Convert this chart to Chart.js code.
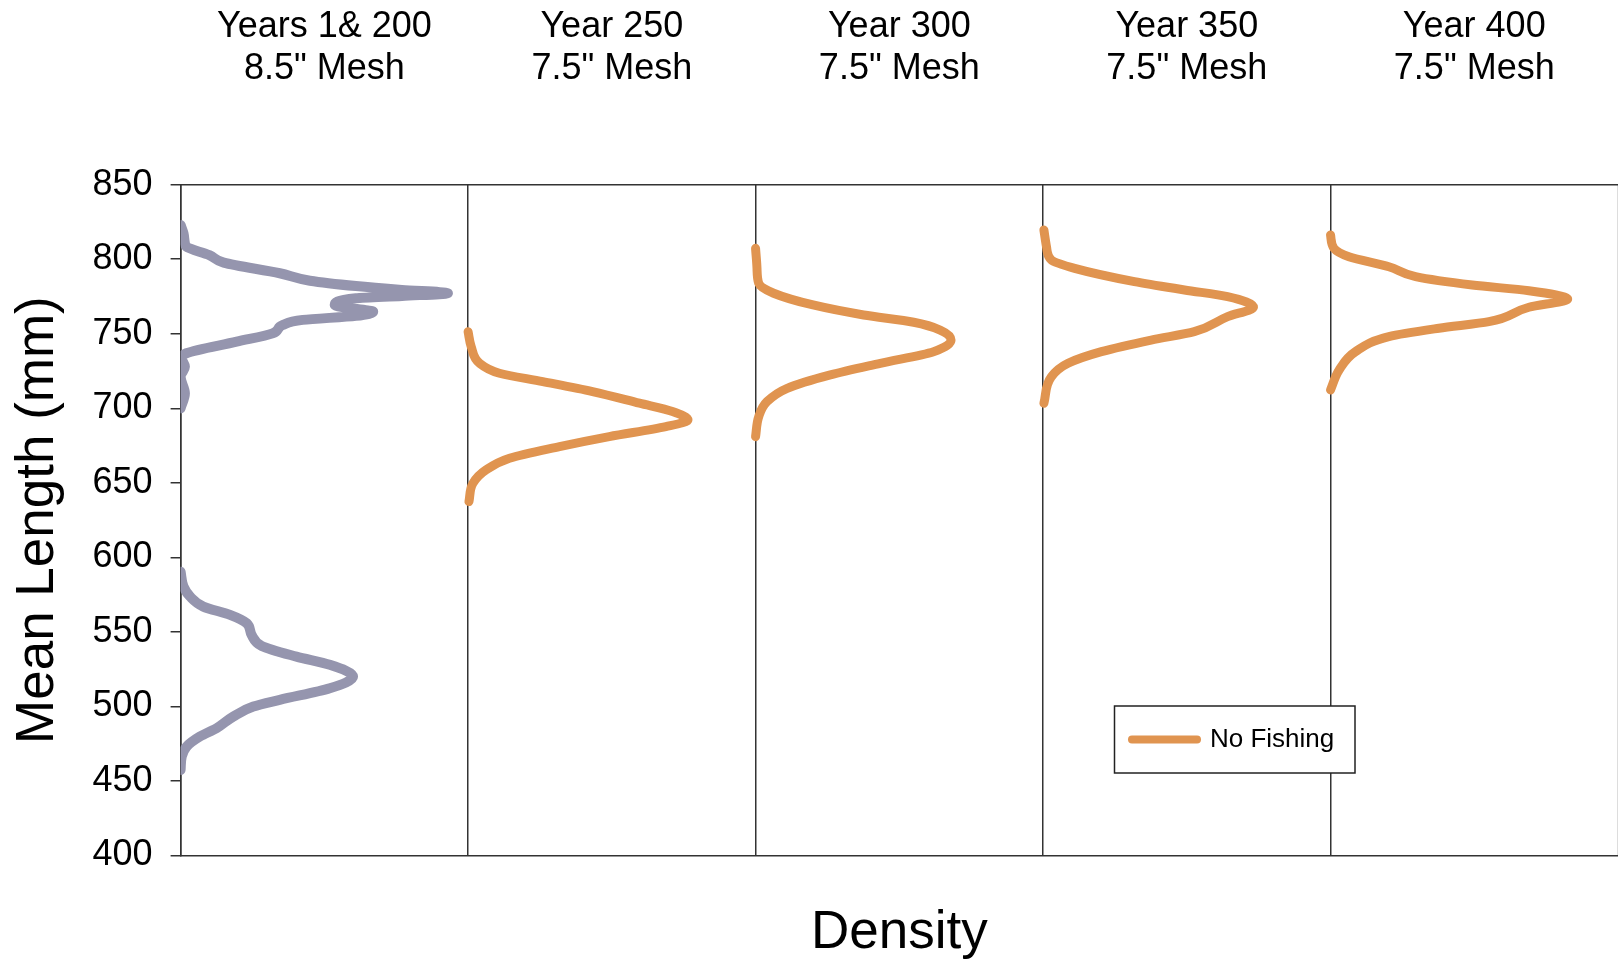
<!DOCTYPE html>
<html><head><meta charset="utf-8">
<script src="https://cdn.jsdelivr.net/npm/chart.js@4.4.1/dist/chart.umd.min.js"></script>
<style>html,body{margin:0;padding:0;background:#fff;overflow:hidden}#wrap{width:1618px;height:961px;position:relative}</style>
</head><body><div id="wrap"><canvas id="c" width="1618" height="961"></canvas></div>
<script>
// ---- Data (densities expressed as fraction of a panel's width) ----
const lengthTicks = [400, 450, 500, 550, 600, 650, 700, 750, 800, 850];
const panelTitles = [
  ["Years 1& 200", "8.5\" Mesh"],
  ["Year 250", "7.5\" Mesh"],
  ["Year 300", "7.5\" Mesh"],
  ["Year 350", "7.5\" Mesh"],
  ["Year 400", "7.5\" Mesh"]
];
const seriesLabels = ["Years 1 & 200", "No Fishing"];

// Panel 1 (Years 1 & 200), upper mode
const p1UpperLength  = [823, 817.4, 810.7, 808.4, 802.8, 797.7, 790.6, 785.6, 782, 779.4, 777.2, 775.4, 773.8, 769.3, 767.1, 764.8, 762, 759.3, 755.9, 750.3, 744.7, 736.9, 733.6, 727.9, 721.2, 710.1, 700];
const p1UpperDensity = [0, 0.01, 0.015, 0.02, 0.10, 0.15, 0.345, 0.45, 0.61, 0.77, 0.93, 0.77, 0.61, 0.536, 0.59, 0.67, 0.61, 0.425, 0.356, 0.32, 0.195, 0.02, 0.004, 0.015, 0, 0.015, 0];
// Panel 1, lower mode
const p1LowerLength  = [590.4, 580.4, 573.7, 567, 561.4, 555.8, 548, 540.6, 533.4, 527.9, 520, 512.2, 504.4, 499.9, 493.2, 485.4, 479.8, 473.1, 466.4, 457.4];
const p1LowerDensity = [0, 0.01, 0.033, 0.079, 0.172, 0.23, 0.247, 0.282, 0.403, 0.519, 0.60, 0.519, 0.345, 0.253, 0.183, 0.125, 0.067, 0.021, 0.004, 0];
// Year 250
const p2Length  = [751.4, 741.3, 730.2, 723.5, 717.9, 711.2, 703.4, 697.8, 692.2, 687.7, 681, 674.3, 666.5, 658.7, 649.7, 637.4];
const p2Density = [0, 0.011, 0.04, 0.109, 0.26, 0.433, 0.596, 0.711, 0.765, 0.688, 0.491, 0.318, 0.144, 0.063, 0.017, 0.003];
// Year 300
const p3Length  = [807.3, 793.9, 783.9, 777.2, 769.3, 762.6, 757.7, 752.5, 745.8, 738, 730.2, 722.4, 713.4, 704.5, 694.4, 681];
const p3Density = [0, 0.005, 0.011, 0.063, 0.2, 0.376, 0.55, 0.642, 0.68, 0.619, 0.434, 0.26, 0.11, 0.04, 0.011, 0];
// Year 350
const p4Length  = [819.6, 808.4, 799.5, 793.9, 785, 779.4, 774.9, 767.8, 761.5, 751.4, 745.8, 738, 730.2, 721.2, 703.4];
const p4Density = [0.003, 0.012, 0.029, 0.11, 0.318, 0.492, 0.642, 0.732, 0.642, 0.526, 0.376, 0.203, 0.087, 0.029, 0.003];
// Year 400
const p5Length  = [816.3, 807.3, 801.7, 795, 788.3, 782.7, 778.9, 773.3, 767.8, 758.1, 753.7, 748.1, 738, 725.7, 712.3];
const p5Density = [0, 0.012, 0.064, 0.203, 0.296, 0.493, 0.69, 0.825, 0.69, 0.551, 0.377, 0.203, 0.087, 0.03, 0];

// ---- Styling ----
const FONT = '"Liberation Sans", Arial, Helvetica, sans-serif';
const GRAY = '#9595ae';
const ORANGE = '#e09450';
const AXIS = '#333333';

const zip = (ys, xs) => ys.map((y, i) => ({ x: xs[i], y: y }));
function curve(label, lengths, dens, panel, color, width) {
  return {
    label: label, data: zip(lengths, dens), xAxisID: 'p' + panel, yAxisID: 'y',
    borderColor: color, backgroundColor: color, borderWidth: width,
    pointRadius: 0, pointHoverRadius: 0, fill: false,
    cubicInterpolationMode: 'monotone', borderCapStyle: 'round', borderJoinStyle: 'round'
  };
}

const datasets = [
  curve(seriesLabels[0], p1UpperLength, p1UpperDensity, 0, GRAY, 10),
  curve(seriesLabels[0], p1LowerLength, p1LowerDensity, 0, GRAY, 10),
  curve(seriesLabels[1], p2Length, p2Density, 1, ORANGE, 9),
  curve(seriesLabels[1], p3Length, p3Density, 2, ORANGE, 9),
  curve(seriesLabels[1], p4Length, p4Density, 3, ORANGE, 9),
  curve(seriesLabels[1], p5Length, p5Density, 4, ORANGE, 9)
];

const nPanels = panelTitles.length;
const scales = {
  y: {
    type: 'linear', position: 'left',
    min: lengthTicks[0], max: lengthTicks[lengthTicks.length - 1],
    ticks: { stepSize: lengthTicks[1] - lengthTicks[0], color: '#000', padding: 18, autoSkip: false,
             font: { family: FONT, size: 36 } },
    grid: { drawOnChartArea: false, drawTicks: true, tickLength: 10, color: AXIS, lineWidth: 1.5 },
    border: { display: true, color: AXIS, width: 1.5 },
    title: { display: true, text: 'Mean Length (mm)', color: '#000',
             font: { family: FONT, size: 53, lineHeight: 1 }, padding: { top: 12, bottom: 0 } },
    afterFit: s => { s.width = 180.6; }
  },
  x: {
    type: 'linear', position: 'bottom', min: 0, max: nPanels,
    ticks: { display: false, stepSize: 1 },
    grid: { drawOnChartArea: true, drawTicks: false, lineWidth: 1.5,
            color: c => (c.tick && c.tick.value === nPanels) ? '#dddddd' : AXIS },
    border: { display: true, color: AXIS, width: 1.5 },
    title: { display: true, text: 'Density', color: '#000',
             font: { family: FONT, size: 53, lineHeight: 1 }, padding: { top: 0, bottom: 1 } },
    afterFit: s => { s.height = 105.5; }
  },
  xTop: {
    type: 'linear', position: 'top', min: 0, max: nPanels,
    ticks: { display: false }, grid: { display: false, drawTicks: false },
    border: { display: true, color: AXIS, width: 1.5 },
    afterFit: s => { s.height = 0; }
  }
};
for (let k = 0; k < nPanels; k++) {
  scales['p' + k] = { type: 'linear', display: false, min: -k, max: nPanels - k };
}

const decorPlugin = {
  id: 'decor',
  afterDraw(chart) {
    const ctx = chart.ctx;
    const xs = chart.scales.x;
    ctx.save();
    // panel titles
    ctx.fillStyle = '#000';
    ctx.font = '36px ' + FONT;
    ctx.textAlign = 'center';
    ctx.textBaseline = 'middle';
    panelTitles.forEach((t, k) => {
      const cx = xs.getPixelForValue(k + 0.5);
      ctx.fillText(t[0], cx, 27);
      ctx.fillText(t[1], cx, 69);
    });
    // legend
    const bx = 1114.5, by = 706, bw = 240.5, bh = 67;
    ctx.fillStyle = '#fff';
    ctx.fillRect(bx, by, bw, bh);
    ctx.strokeStyle = '#222';
    ctx.lineWidth = 1.5;
    ctx.strokeRect(bx, by, bw, bh);
    ctx.strokeStyle = ORANGE;
    ctx.lineWidth = 8;
    ctx.lineCap = 'round';
    ctx.beginPath();
    ctx.moveTo(1132, 739.5);
    ctx.lineTo(1197, 739.5);
    ctx.stroke();
    ctx.fillStyle = '#000';
    ctx.font = '26px ' + FONT;
    ctx.textAlign = 'left';
    ctx.fillText(seriesLabels[1], 1210, 740);
    ctx.restore();
  }
};

new Chart(document.getElementById('c'), {
  type: 'line',
  data: { datasets: datasets },
  options: {
    indexAxis: 'y',
    responsive: false, animation: false,
    layout: { padding: { top: 184.7, left: 0, right: 0, bottom: 0 } },
    plugins: { legend: { display: false }, tooltip: { enabled: false } },
    scales: scales
  },
  plugins: [decorPlugin]
});
</script></body></html>
